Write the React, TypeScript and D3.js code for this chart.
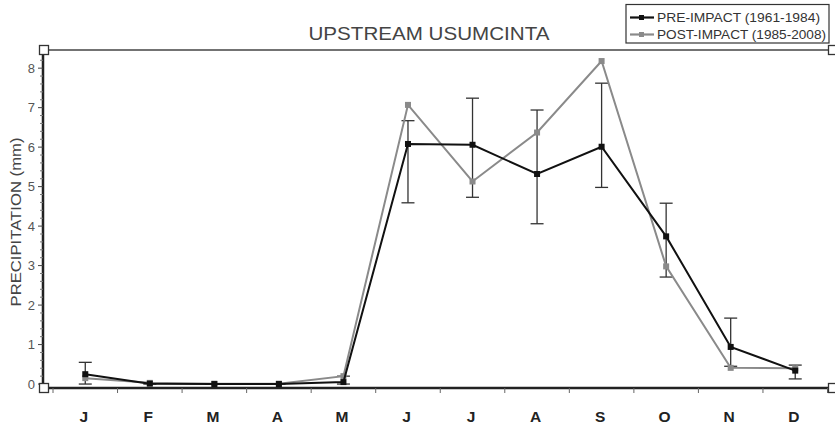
import React from "react";
import * as d3 from "d3";

const months = ["J", "F", "M", "A", "M", "J", "J", "A", "S", "O", "N", "D"];
const preImpact = [0.25, 0.01, 0.0, 0.0, 0.05, 6.08, 6.06, 5.32, 6.01, 3.74, 0.94, 0.34];
const postImpact = [0.15, 0.03, 0.01, 0.01, 0.2, 7.07, 5.13, 6.37, 8.18, 2.98, 0.41, 0.4];
const preLow = [0.0, 0.0, 0.0, 0.0, 0.0, 4.59, 4.73, 4.06, 4.98, 2.71, 0.45, 0.13];
const preHigh = [0.55, 0.03, 0.01, 0.01, 0.2, 6.67, 7.24, 6.94, 7.62, 4.58, 1.67, 0.48];
const yTicks = [0, 1, 2, 3, 4, 5, 6, 7, 8];

const W = 835;
const H = 426;
const left = 43;
const right = 833;
const top = 50;
const bottom = 388;

export default function App() {
  const idx = months.map((_, i) => i);
  const x = d3.scaleBand<number>().domain(idx).range([53, 827.5]).padding(0);
  const cx = (i: number) => (x(i) as number) + x.bandwidth() / 2;
  const y = d3.scaleLinear().domain([-0.1, 8.46]).range([bottom, top]);
  const line = d3
    .line<number>()
    .x((_, i) => cx(i))
    .y((d) => y(d));
  const minor = d3.range(0, 8.41, 0.2).filter((v) => Math.abs(v - Math.round(v)) > 0.01);
  const xTickPos = [...idx.map((i) => x(i) as number), 827.5];
  const font = "'Liberation Sans', Arial, sans-serif";

  const corner = (px: number, py: number, k: string) => (
    <rect key={k} x={px - 4.5} y={py - 4.5} width={9} height={9} fill="#fff" stroke="#333" strokeWidth={1.3} />
  );

  return (
    <svg width={W} height={H} style={{ position: "absolute", left: 0, top: 0, background: "#fff" }} fontFamily={font}>
      <rect x={0} y={0} width={W} height={H} fill="#fff" />
      {/* title */}
      <text x={429} y={40} textAnchor="middle" fontSize={18} fill="#444" textLength={241} lengthAdjust="spacingAndGlyphs">
        UPSTREAM USUMCINTA
      </text>
      {/* legend */}
      <rect x={626} y={4.5} width={203} height={38.5} fill="#fff" stroke="#333" strokeWidth={1.2} />
      <line x1={630} x2={654} y1={17.5} y2={17.5} stroke="#111" strokeWidth={2.2} />
      <rect x={639} y={15} width={5} height={5} fill="#111" />
      <text x={657} y={22} fontSize={13} fill="#333" textLength={163} lengthAdjust="spacingAndGlyphs">
        PRE-IMPACT (1961-1984)
      </text>
      <line x1={630} x2={654} y1={34.5} y2={34.5} stroke="#8a8a8a" strokeWidth={2.2} />
      <rect x={639} y={32} width={5} height={5} fill="#8a8a8a" />
      <text x={657} y={39} fontSize={13} fill="#333" textLength={169} lengthAdjust="spacingAndGlyphs">
        POST-IMPACT (1985-2008)
      </text>

      {/* top frame line */}
      <line x1={left} x2={right} y1={top} y2={top} stroke="#444" strokeWidth={1.5} />
      {/* y axis */}
      <line x1={left} x2={left} y1={top} y2={bottom} stroke="#222" strokeWidth={2.5} />
      {yTicks.map((t) => (
        <g key={"yt" + t}>
          <line x1={left - 5} x2={left} y1={y(t)} y2={y(t)} stroke="#444" strokeWidth={1} />
          <text x={left - 8} y={y(t) + 4.5} textAnchor="end" fontSize={13} fill="#555">
            {t}
          </text>
        </g>
      ))}
      {minor.map((t, i) => (
        <line key={"ym" + i} x1={left - 3} x2={left} y1={y(t)} y2={y(t)} stroke="#777" strokeWidth={1} />
      ))}
      {/* x axis */}
      <line x1={left} x2={right} y1={bottom} y2={bottom} stroke="#222" strokeWidth={2.5} />
      {xTickPos.map((p, i) => (
        <line key={"xt" + i} x1={p} x2={p} y1={bottom} y2={bottom + 5} stroke="#666" strokeWidth={1} />
      ))}
      {months.map((m, i) => (
        <text key={"xl" + i} x={cx(i) - 1.5} y={422} textAnchor="middle" fontSize={15.5} fontWeight="bold" fill="#222">
          {m}
        </text>
      ))}
      {/* y label */}
      <text
        transform={`translate(21,${222}) rotate(-90)`}
        textAnchor="middle"
        fontSize={15}
        fill="#444"
        textLength={169}
        lengthAdjust="spacingAndGlyphs"
      >
        PRECIPITATION (mm)
      </text>

      {/* error bars */}
      {idx.map((i) => (
        <g key={"eb" + i} stroke="#333" strokeWidth={1.3}>
          <line x1={cx(i)} x2={cx(i)} y1={y(preLow[i])} y2={y(preHigh[i])} />
          <line x1={cx(i) - 6.5} x2={cx(i) + 6.5} y1={y(preLow[i])} y2={y(preLow[i])} />
          <line x1={cx(i) - 6.5} x2={cx(i) + 6.5} y1={y(preHigh[i])} y2={y(preHigh[i])} />
        </g>
      ))}

      {/* post-impact series */}
      <path d={line(postImpact) || ""} fill="none" stroke="#8a8a8a" strokeWidth={2} />
      {postImpact.map((v, i) => (
        <rect key={"pm" + i} x={cx(i) - 3} y={y(v) - 3} width={6} height={6} fill="#8a8a8a" />
      ))}
      {/* pre-impact series */}
      <path d={line(preImpact) || ""} fill="none" stroke="#111" strokeWidth={2} />
      {preImpact.map((v, i) => (
        <rect key={"rm" + i} x={cx(i) - 3} y={y(v) - 3} width={6} height={6} fill="#111" />
      ))}

      {/* corner boxes */}
      {corner(44, top, "c1")}
      {corner(44, bottom, "c2")}
      {corner(right, top, "c3")}
      {corner(right, bottom, "c4")}
    </svg>
  );
}
